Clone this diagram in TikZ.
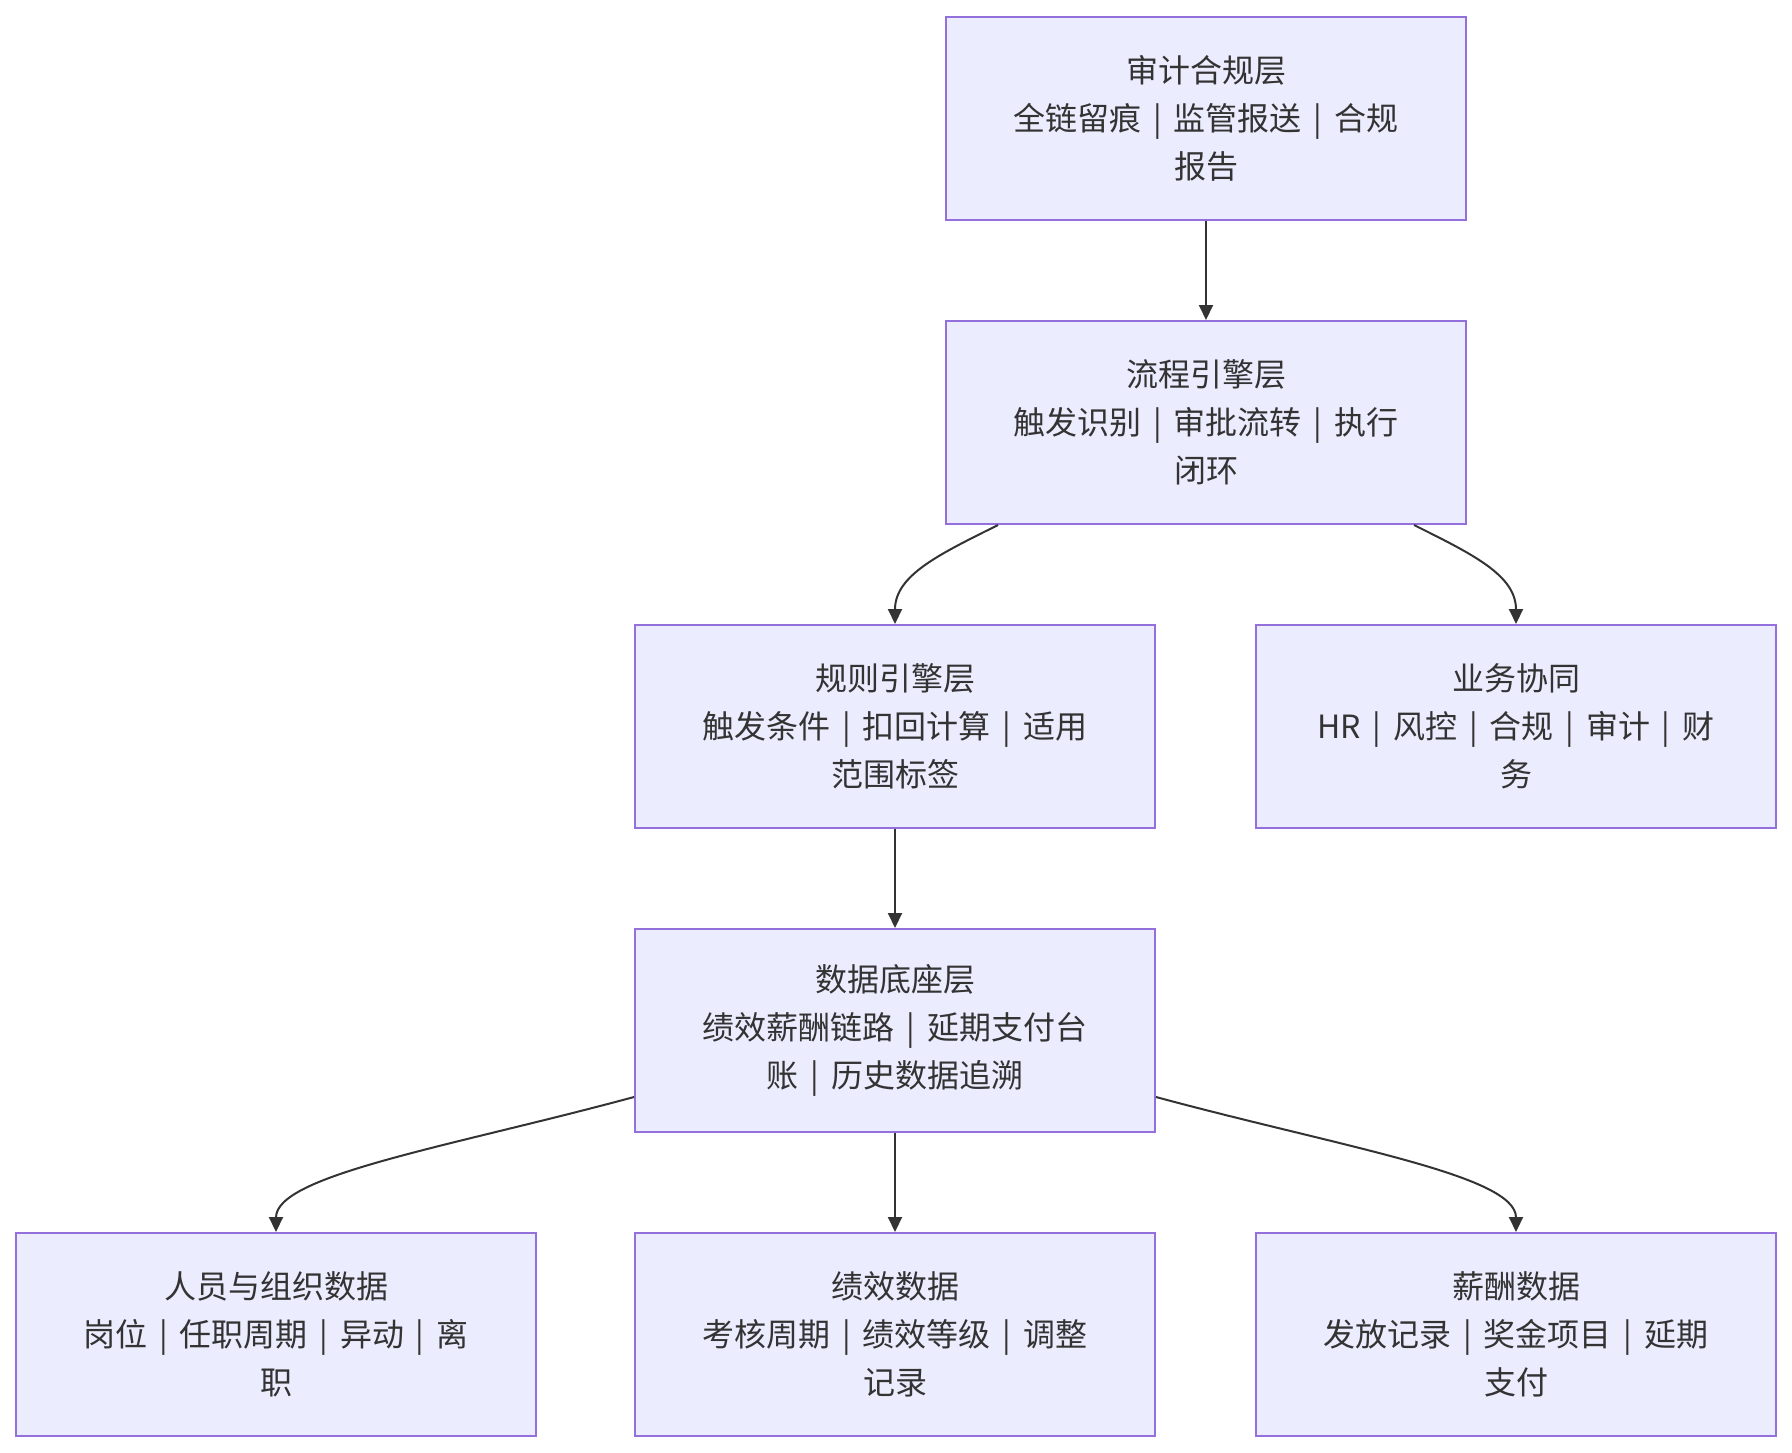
\documentclass[tikz,border=0pt]{standalone}
\usepackage{fontspec}
\setmainfont{Noto Sans CJK SC}
\usetikzlibrary{arrows.meta,calc}
\definecolor{nodefill}{HTML}{ECECFF}
\definecolor{nodeborder}{HTML}{9370DB}
\definecolor{ink}{HTML}{333333}
\newcommand\vsep{\hspace{0.37em}|\hspace{0.37em}}
\begin{document}
\begin{tikzpicture}[x=1pt,y=-1pt,
  box/.style={draw=nodeborder, fill=nodefill, line width=2pt, minimum width=520pt, minimum height=203pt, inner sep=0pt, text=ink, align=center, font=\fontsize{32}{48}\selectfont},
  conn/.style={draw=ink, line width=2pt, -{Triangle[length=15pt,width=14pt]}}]
\useasboundingbox (0,0) rectangle (1792,1452);
\node[box] (a) at (1206,118.5) {审计合规层\\全链留痕\vsep 监管报送\vsep 合规\\报告};
\node[box] (b) at (1206,422.5) {流程引擎层\\触发识别\vsep 审批流转\vsep 执行\\闭环};
\node[box] (c) at (895,726.5) {规则引擎层\\触发条件\vsep 扣回计算\vsep 适用\\范围标签};
\node[box] (d) at (1516,726.5) {业务协同\\HR\vsep 风控\vsep 合规\vsep 审计\vsep 财\\务};
\node[box] (e) at (895,1030.5) {数据底座层\\绩效薪酬链路\vsep 延期支付台\\账\vsep 历史数据追溯};
\node[box] (f) at (276,1334.5) {人员与组织数据\\岗位\vsep 任职周期\vsep 异动\vsep 离\\职};
\node[box] (g) at (895,1334.5) {绩效数据\\考核周期\vsep 绩效等级\vsep 调整\\记录};
\node[box] (h) at (1516,1334.5) {薪酬数据\\发放记录\vsep 奖金项目\vsep 延期\\支付};
\draw[conn] (a.south) -- (b.north);
\draw[conn] ($(b.south)+(-208,0)$) .. controls ($(b.south)+(-266,29)$) and ($(c.north)+(0,-49)$) .. (c.north);
\draw[conn] ($(b.south)+(208,0)$) .. controls ($(b.south)+(266,29)$) and ($(d.north)+(0,-49)$) .. (d.north);
\draw[conn] (c.south) -- (e.north);
\draw[conn] ($(e.south west)+(0,-36)$) .. controls ($(e.south west)+(-185,14)$) and ($(f.north)+(0,-57)$) .. (f.north);
\draw[conn] (e.south) -- (g.north);
\draw[conn] ($(e.south east)+(0,-36)$) .. controls ($(e.south east)+(185,14)$) and ($(h.north)+(0,-57)$) .. (h.north);
\end{tikzpicture}
\end{document}
